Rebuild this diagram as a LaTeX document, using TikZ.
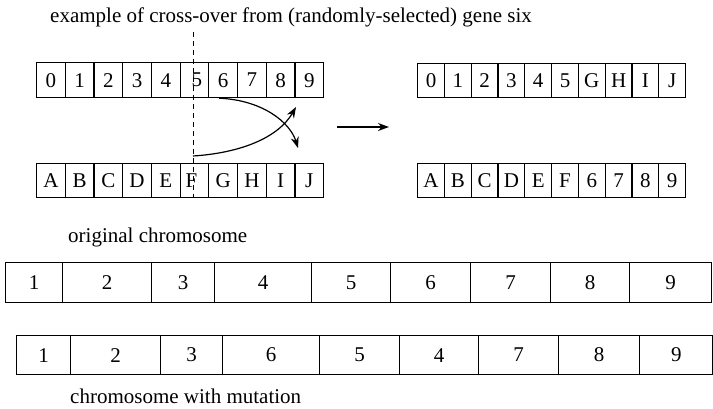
\documentclass[tikz,border=0pt]{standalone}
\usepackage{fontspec}
\setmainfont{Liberation Serif}
\usetikzlibrary{arrows.meta}
\begin{document}
\begin{tikzpicture}[x=1pt,y=-1pt,
  txt/.style={font=\fontsize{21}{25}\selectfont},
  cell/.style={txt, draw, line width=1.2pt, rectangle, inner sep=0pt, anchor=north west},
  lbl/.style={txt, inner sep=0pt, anchor=base west},
  link/.style={line width=1.2pt, -{Stealth[length=11pt,width=8pt]}}]
\useasboundingbox (0,0) rectangle (713,408);
% title
\node[lbl] (title) at (50,22) {example of cross-over from (randomly-selected) gene six};
% crossover rows, left
\foreach \t/\dx [count=\i from 0] in {0/0,1/0,2/0,3/0,4/0,5/5,6/0,7/0,8/0,9/0}
  \node[cell, minimum width=28.7pt, minimum height=35pt, text depth=0pt] (tl\i) at ({36+28.7*\i},62) {\hspace*{\dx pt}\t};
\foreach \t/\dx [count=\i from 0] in {A/0,B/0,C/0,D/0,E/0,F/-6,G/0,H/0,I/0,J/0}
  \node[cell, minimum width=28.7pt, minimum height=34pt] (bl\i) at ({36+28.7*\i},163) {\ifdim\dx pt<0pt\t\hspace*{6pt}\else\t\fi};
% crossover rows, right
\foreach \t [count=\i from 0] in {0,1,2,3,4,5,G,H,I,J}
  \node[cell, minimum width=26.8pt, minimum height=34pt] (tr\i) at ({417+26.8*\i},63) {\t};
\foreach \t [count=\i from 0] in {A,B,C,D,E,F,6,7,8,9}
  \node[cell, minimum width=26.8pt, minimum height=34pt] (br\i) at ({417+26.8*\i},163) {\t};
% cut line
\coordinate (cutT) at (193,32);
\coordinate (cutB) at (193,197);
\coordinate (cutS) at (193,156);
\draw[line width=0.9pt, dash pattern=on 5pt off 4pt] (cutT) -- (cutB);
% swap arrows
\coordinate (endA) at (298,148);
\coordinate (endB) at (296,107);
\draw[link] ([xshift=-4pt]tl6.south) .. controls (262,100) and (290,122) .. (endA);
\draw[link] (cutS) .. controls (240,153) and (278,138) .. (endB);
% result arrow
\coordinate (arrS) at (337,127);
\coordinate (arrE) at (389,127);
\draw[link] (arrS) -- (arrE);
% mutation
\node[lbl] (orig) at (68,242) {original chromosome};
\foreach \t/\a/\b [count=\i] in {1/5/62,2/62/151,3/151/214,4/214/311,5/311/390,6/390/470,7/470/550,8/550/629,9/629/711}
  \node[cell, minimum width={\b-\a}, minimum height=40pt] (o\i) at (\a,262) {\t};
\foreach \t/\a/\b [count=\i] in {1/16/70,2/70/160,3/160/222,6/222/319,5/319/399,4/399/478,7/478/558,8/558/639,9/639/712.4}
  \node[cell, minimum width={\b-\a}, minimum height=39pt] (m\i) at (\a,335) {\t};
\node[lbl] (mut) at (70,403) {chromosome with mutation};
\end{tikzpicture}
\end{document}
